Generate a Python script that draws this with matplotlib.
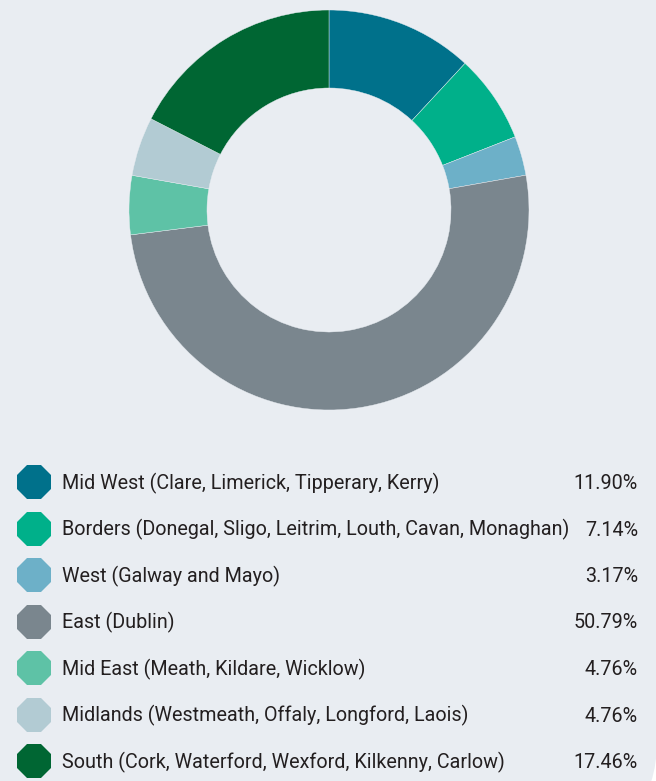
import matplotlib
matplotlib.use("Agg")
import matplotlib.pyplot as plt
from matplotlib.patches import FancyBboxPatch

# region shares (%), in drawing order (clockwise from 12 o'clock)
regions = [
    "Mid West (Clare, Limerick, Tipperary, Kerry)",
    "Borders (Donegal, Sligo, Leitrim, Louth, Cavan, Monaghan)",
    "West (Galway and Mayo)",
    "East (Dublin)",
    "Mid East (Meath, Kildare, Wicklow)",
    "Midlands (Westmeath, Offaly, Longford, Laois)",
    "South (Cork, Waterford, Wexford, Kilkenny, Carlow)",
]
shares = [11.90, 7.14, 3.17, 50.79, 4.76, 4.76, 17.46]
colors = ["#00718b", "#00b08a", "#6db0c8", "#7a868e", "#5ec2a6", "#b2cbd3", "#006633"]

BG = "#e9edf2"
W, H = 656, 781

plt.rcParams["font.family"] = ["Roboto", "DejaVu Sans"]

fig = plt.figure(figsize=(W / 100, H / 100), dpi=100, facecolor="white")

# panel with a rounded bottom-right corner
panel = FancyBboxPatch((-300, H - 837), 957, 1200, boxstyle="round,pad=0,rounding_size=97",
                       facecolor=BG, edgecolor="none", transform=None, zorder=-10)
fig.add_artist(panel)

# donut
cx, cy, r = 329, 210, 200
ax = fig.add_axes([(cx - r) / W, 1 - (cy + r) / H, 2 * r / W, 2 * r / H])
ax.pie(shares, colors=colors, startangle=90, counterclock=False, radius=1,
       wedgeprops=dict(width=0.39, edgecolor=BG, linewidth=0.3))
ax.set_xlim(-1, 1)
ax.set_ylim(-1, 1)
ax.set_axis_off()

# legend
lg = fig.add_axes([0, 0, 1, 1])
lg.set_xlim(0, W)
lg.set_ylim(H, 0)
lg.set_axis_off()
lg.patch.set_alpha(0)
for i, (name, val, col) in enumerate(zip(regions, shares, colors)):
    y = 482 + i * 46.5
    lg.plot([33.5], [y], marker="8", markersize=26.5, color=col, markeredgewidth=0)
    lg.text(62, y + 7, name, fontsize=14.2, color="#231f20", va="baseline", ha="left")
    lg.text(638, y + 7, f"{val:.2f}%", fontsize=14.2, color="#231f20", va="baseline", ha="right")

fig.savefig("out.png", dpi=100, facecolor=fig.get_facecolor())
